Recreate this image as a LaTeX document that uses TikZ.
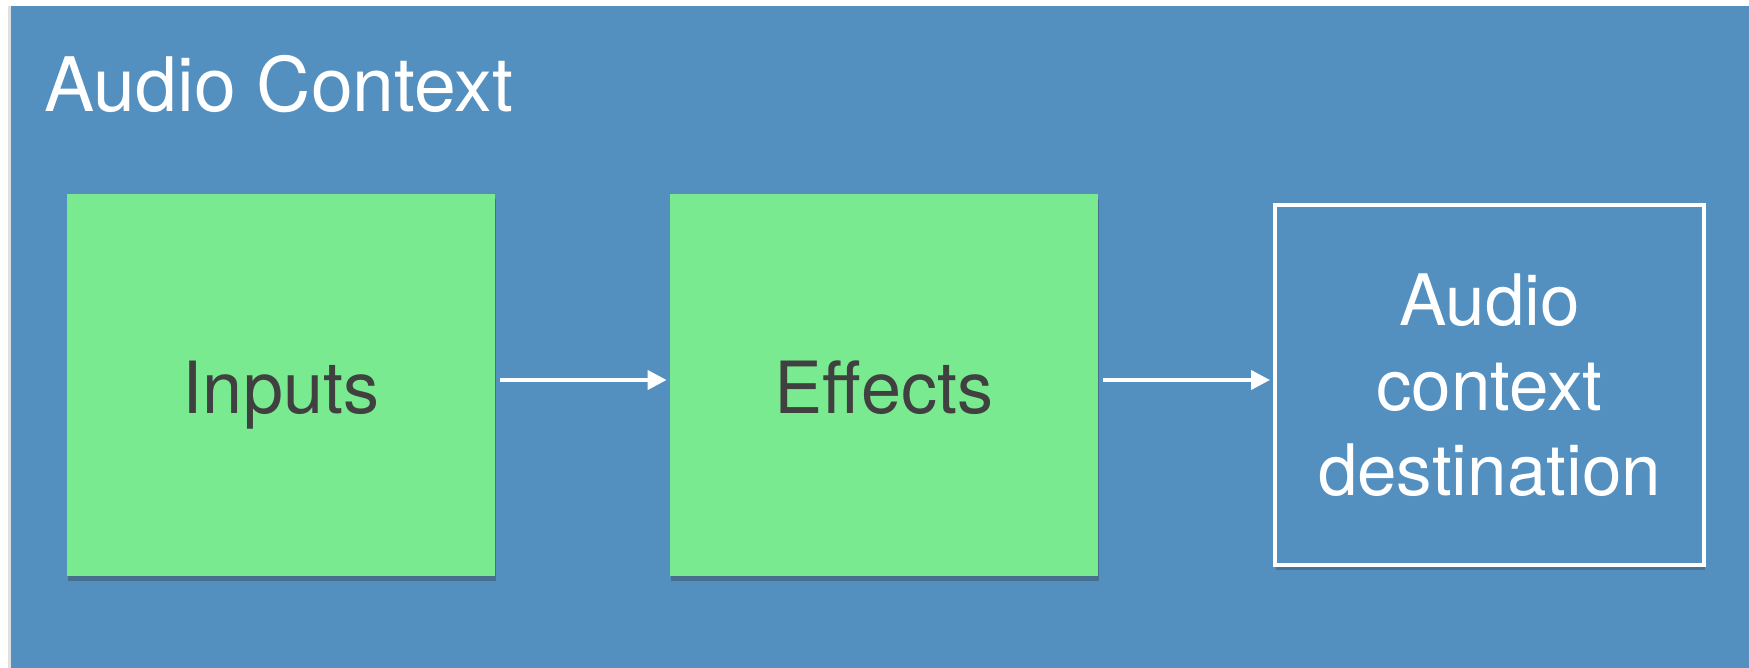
\documentclass[tikz,border=0pt]{standalone}
\usepackage{fontspec}
\setmainfont{TeX Gyre Heros}
\usetikzlibrary{arrows.meta,shadows}

\definecolor{ctxblue}{RGB}{83,144,192}
\definecolor{nodegreen}{RGB}{122,234,144}
\definecolor{labelgray}{RGB}{64,64,64}

\begin{document}
\begin{tikzpicture}[
  x=0.5pt, y=-0.5pt,
  box/.style={fill=nodegreen, minimum width=214pt, minimum height=191pt, inner sep=0pt,
    text=labelgray, font=\fontsize{36}{43}\selectfont, text height=28pt, text depth=0pt,
    drop shadow={shadow xshift=0.6pt, shadow yshift=-2.5pt, opacity=0.35, fill=black!80}},
  dest/.style={draw=white, fill=ctxblue, line width=2pt, minimum width=214.5pt, minimum height=180pt,
    inner sep=0pt, text=white, align=center, font=\fontsize{35.5}{42.5}\selectfont,
    drop shadow={shadow xshift=0.6pt, shadow yshift=-2.5pt, opacity=0.3, fill=black!80}},
  link/.style={draw=white, line width=2pt, -{Triangle[length=9.5pt, width=9.5pt]},
    shorten <=2.5pt, shorten >=1.5pt},
]
\useasboundingbox (0,0) rectangle (1749,668);
\fill[white] (0,0) rectangle (1749,668);
\fill[black!12] (8,6) rectangle (11,668);
\fill[ctxblue] (11,6) rectangle (1749,668);

\node[anchor=base west, inner sep=0pt, text=white, font=\fontsize{37.6}{45}\selectfont] (title) at (44,112) {Audio Context};

\node[box] (in) at (281,385) {Inputs};
\node[box] (fx) at (884,385) {Effects};
\node[dest] (out) at (1489.5,385) {Audio\\ context\\ destination};

\draw[link] ([yshift=2.5pt]in.east) -- ([yshift=2.5pt]fx.west);
\draw[link] ([yshift=2.5pt]fx.east) -- ([yshift=2.5pt]out.west);
\end{tikzpicture}
\end{document}
